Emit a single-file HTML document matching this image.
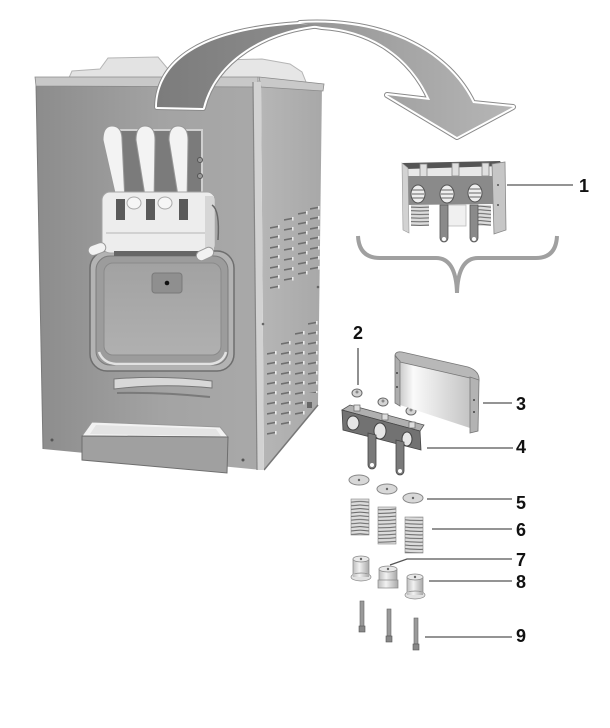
<!DOCTYPE html>
<html><head><meta charset="utf-8"><style>
html,body{margin:0;padding:0;background:#fff;}
svg{display:block;}
text{font-family:"Liberation Sans",Arial,sans-serif;font-weight:bold;font-size:18px;fill:#111;}
</style></head><body>
<svg width="610" height="728" viewBox="0 0 610 728" xmlns="http://www.w3.org/2000/svg">
<defs>
 <linearGradient id="front" x1="0" y1="0" x2="1" y2="0">
  <stop offset="0" stop-color="#8c8c8c"/><stop offset="0.55" stop-color="#a3a3a3"/><stop offset="1" stop-color="#a9a9a9"/>
 </linearGradient>
 <linearGradient id="side" x1="0" y1="0" x2="1" y2="0">
  <stop offset="0" stop-color="#b6b6b6"/><stop offset="1" stop-color="#a8a8a8"/>
 </linearGradient>
 <linearGradient id="arrL" x1="0" y1="0" x2="1" y2="0"><stop offset="0" stop-color="#7c7c7c"/><stop offset="1" stop-color="#8e8e8e"/></linearGradient>
 <linearGradient id="arrR" x1="0" y1="0" x2="1" y2="0"><stop offset="0" stop-color="#949494"/><stop offset="1" stop-color="#b6b6b6"/></linearGradient>
 <linearGradient id="cov" x1="0" y1="0" x2="1" y2="0"><stop offset="0" stop-color="#c8c8c8"/><stop offset="0.2" stop-color="#fafafa"/><stop offset="1" stop-color="#c4c4c4"/></linearGradient>
 <linearGradient id="cyl" x1="0" y1="0" x2="1" y2="0"><stop offset="0" stop-color="#bdbdbd"/><stop offset="0.4" stop-color="#f2f2f2"/><stop offset="1" stop-color="#a8a8a8"/></linearGradient>
 <linearGradient id="win" x1="0" y1="0" x2="0" y2="1"><stop offset="0" stop-color="#a2a2a2"/><stop offset="1" stop-color="#b0b0b0"/></linearGradient>
 <pattern id="vent" width="12" height="10" patternUnits="userSpaceOnUse">
  <path d="M0,6 L8,4.5" stroke="#6e6e6e" stroke-width="1.6"/>
  <path d="M8.8,3 L8.8,6.5" stroke="#f2f2f2" stroke-width="1.4"/>
 </pattern>
 <pattern id="coil" width="40" height="3.6" patternUnits="userSpaceOnUse">
  <rect width="40" height="3.6" fill="#dcdcdc"/>
  <path d="M0,1 Q20,3.4 40,1" stroke="#666" stroke-width="1" fill="none"/>
 </pattern>
</defs>

<!-- ===== Machine ===== -->
<path d="M68,80 L72,71 L100,69 L108,58 L158,57 L168,69 L171,80 Z" fill="#e3e3e3" stroke="#b5b5b5"/>
<path d="M208,80 L214,70 L222,60 L262,59 L290,64 L302,72 L306,82 Z" fill="#e6e6e6" stroke="#b5b5b5"/>
<path d="M36,84 L257,86 L262,470 L43,449 Z" fill="url(#front)"/>
<path d="M36,84 L43,449" stroke="#7a7a7a" stroke-width="1"/>
<path d="M35,77 L258,77 L258,87 L36,86 Z" fill="#c8c8c8" stroke="#8a8a8a" stroke-width="0.8"/>
<path d="M261,79 L322,85 L318,405 L264,470 Z" fill="url(#side)"/>
<path d="M259,77 L324,84 L323,91 L261,87 Z" fill="#c9c9c9" stroke="#8a8a8a" stroke-width="0.8"/>
<path d="M318,405 L264,470" stroke="#777" stroke-width="1.5"/>
<path d="M253,82 L261,82 L264,470 L257,470 Z" fill="#d2d2d2"/>
<path d="M253,82 L257,470" stroke="#858585" stroke-width="1.2"/>
<rect transform="translate(270,222)" width="12" height="73" fill="url(#vent)"/>
<rect transform="translate(284,214)" width="12" height="73" fill="url(#vent)"/>
<rect transform="translate(298,208)" width="12" height="72" fill="url(#vent)"/>
<rect transform="translate(310,203)" width="10" height="67" fill="url(#vent)"/>
<rect transform="translate(267,348)" width="12" height="92" fill="url(#vent)"/>
<rect transform="translate(281,338)" width="12" height="90" fill="url(#vent)"/>
<rect transform="translate(295,328)" width="12" height="87" fill="url(#vent)"/>
<rect transform="translate(308,318)" width="11" height="75" fill="url(#vent)"/>
<circle cx="263" cy="324" r="1.3" fill="#666"/>
<circle cx="318" cy="287" r="1.3" fill="#666"/>
<rect x="307" y="402" width="5" height="6" fill="#666"/>
<circle cx="52" cy="440" r="1.5" fill="#555"/>
<circle cx="243" cy="460" r="1.5" fill="#555"/>

<!-- window -->
<rect x="90" y="251" width="144" height="120" rx="17" fill="#b3b3b3" stroke="#6e6e6e" stroke-width="1.5"/>
<rect x="96" y="256" width="132" height="109" rx="14" fill="#9c9c9c" stroke="#7c7c7c"/>
<rect x="104" y="263" width="117" height="92" rx="9" fill="url(#win)" stroke="#8a8a8a"/>
<path d="M99,352 Q103,363 116,364 L210,364 Q223,363 226,352" stroke="#e2e2e2" stroke-width="2.5" fill="none"/>
<rect x="152" y="273" width="30" height="20" rx="3" fill="#8f8f8f" stroke="#7a7a7a"/>
<circle cx="167" cy="283" r="2.3" fill="#111"/>
<path d="M114,379 Q163,375 212,381 L212,388 Q163,383 114,389 Z" fill="#d8d8d8" stroke="#777"/>
<path d="M117,393 Q163,392 210,397" stroke="#7a7a7a" stroke-width="2" fill="none"/>

<!-- drip tray -->
<path d="M82,436 L92,422 L220,427 L228,437 Z" fill="#f2f2f2" stroke="#999"/>
<path d="M90,434 L96,425 L216,429 L221,436 Z" fill="#e4e4e4"/>
<path d="M82,436 L228,437 L227,473 L82,460 Z" fill="#a0a0a0" stroke="#6e6e6e"/>

<!-- dispenser -->
<rect x="117" y="130" width="85" height="65" fill="#7b7b7b" stroke="#cfcfcf" stroke-width="2"/>
<circle cx="200" cy="160" r="2.5" fill="#999" stroke="#555"/>
<circle cx="200" cy="176" r="2.5" fill="#999" stroke="#555"/>
<path d="M103,140 Q103,126 112,126 Q122,126 122,140 L125,202 L117,202 Z" fill="#f3f3f3" stroke="#999"/>
<path d="M136,140 Q136,126 145,126 Q155,126 155,140 L154,202 L146,202 Z" fill="#f3f3f3" stroke="#999"/>
<path d="M169,140 Q169,126 178,126 Q188,126 188,140 L187,202 L179,202 Z" fill="#f3f3f3" stroke="#999"/>
<rect x="102" y="192" width="113" height="61" rx="8" fill="#ededed" stroke="#a5a5a5"/>
<path d="M106,233 L211,233" stroke="#b5b5b5"/>
<rect x="205" y="196" width="9" height="54" fill="#d6d6d6"/>
<path d="M212,205 Q220,210 218,240" stroke="#666" stroke-width="1.5" fill="none"/>
<rect x="116" y="199" width="9" height="21" fill="#5a5a5a"/>
<rect x="146" y="199" width="9" height="21" fill="#5a5a5a"/>
<rect x="179" y="199" width="9" height="21" fill="#5a5a5a"/>
<ellipse cx="134" cy="203" rx="7" ry="6" fill="#f6f6f6" stroke="#aaa"/>
<ellipse cx="165" cy="203" rx="7" ry="6" fill="#f6f6f6" stroke="#aaa"/>
<rect x="114" y="251" width="88" height="5" fill="#666"/>
<rect x="88" y="244" width="18" height="10" rx="5" transform="rotate(-20 97 249)" fill="#f2f2f2" stroke="#999"/>
<rect x="196" y="249" width="18" height="10" rx="5" transform="rotate(-25 205 254)" fill="#f2f2f2" stroke="#999"/>

<!-- ===== Arrow ===== -->
<g stroke-linejoin="round">
 <path d="M157,107 C158,62 200,30 300,24 L322,25 C265,30 215,60 203,108 Z" fill="none" stroke="#8a8a8a" stroke-width="6"/>
 <path d="M300,23 C390,18 450,55 473,103 L513,107 L457,137 L387,95 L430,100 C410,55 370,30 322,27 Z" fill="none" stroke="#8a8a8a" stroke-width="6"/>
 <path d="M157,107 C158,62 200,30 300,24 L322,25 C265,30 215,60 203,108 Z" fill="none" stroke="#fff" stroke-width="4"/>
 <path d="M300,23 C390,18 450,55 473,103 L513,107 L457,137 L387,95 L430,100 C410,55 370,30 322,27 Z" fill="none" stroke="#fff" stroke-width="4"/>
 <path d="M300,23 C390,18 450,55 473,103 L513,107 L457,137 L387,95 L430,100 C410,55 370,30 322,27 Z" fill="url(#arrR)"/>
 <path d="M157,107 C158,62 200,30 300,24 L322,25 C265,30 215,60 203,108 Z" fill="url(#arrL)"/>
</g>

<!-- ===== Part 1 assembly ===== -->
<path d="M405,168 L500,165 L500,178 L406,178 Z" fill="#e8e8e8"/>
<path d="M402,163 L500,161 L503,166 L406,169 Z" fill="#555"/>
<rect x="420" y="164" width="7" height="13" fill="#e0e0e0" stroke="#888" stroke-width="0.8"/>
<rect x="452" y="163" width="7" height="13" fill="#e0e0e0" stroke="#888" stroke-width="0.8"/>
<rect x="482" y="163" width="7" height="13" fill="#e0e0e0" stroke="#888" stroke-width="0.8"/>
<path d="M404,176 L494,176 L494,204 L405,205 Z" fill="#8a8a8a"/>
<ellipse cx="418" cy="194" rx="7" ry="9" fill="#eee" stroke="#555"/>
<ellipse cx="447" cy="194" rx="7" ry="9" fill="#eee" stroke="#555"/>
<ellipse cx="475" cy="193" rx="7" ry="9" fill="#eee" stroke="#555"/>
<path d="M412,190 H424 M412,194 H424 M412,198 H424 M441,190 H453 M441,194 H453 M441,198 H453 M469,189 H481 M469,193 H481 M469,197 H481" stroke="#666" stroke-width="1"/>
<rect x="411" y="205" width="18" height="21" fill="url(#coil)"/>
<rect x="447" y="205" width="19" height="21" fill="#f0f0f0" stroke="#bbb" stroke-width="0.8"/>
<rect x="474" y="205" width="17" height="21" fill="url(#coil)"/>
<path d="M402,163 L408,168 L409,233 L403,230 Z" fill="#d2d2d2" stroke="#999" stroke-width="0.6"/>
<path d="M492,164 L505,162 L506,230 L494,234 Z" fill="#c6c6c6" stroke="#888" stroke-width="0.8"/>
<circle cx="498" cy="185" r="1" fill="#555"/><circle cx="498" cy="205" r="1" fill="#555"/>
<path d="M440,205 L448,205 L448,238 A4,4 0 0 1 440,238 Z" fill="#8a8a8a" stroke="#555" stroke-width="0.8"/>
<circle cx="444" cy="239" r="2" fill="#fff"/>
<path d="M470,205 L478,205 L478,238 A4,4 0 0 1 470,238 Z" fill="#8a8a8a" stroke="#555" stroke-width="0.8"/>
<circle cx="474" cy="239" r="2" fill="#fff"/>
<path d="M507,185 L573,185" stroke="#555" stroke-width="1.3"/>
<text x="579" y="192">1</text>

<!-- brace -->
<path d="M358,236 Q359,258 380,258 L436,258 Q456,258 457,293 M457,293 Q458,258 478,258 L536,258 Q556,258 557,236" fill="none" stroke="#a0a0a0" stroke-width="4"/>

<!-- ===== Exploded parts ===== -->
<text x="353" y="339">2</text>
<path d="M358,348 L358,385" stroke="#555" stroke-width="1.3"/>
<ellipse cx="357" cy="393" rx="5" ry="4" fill="#d4d4d4" stroke="#666"/><circle cx="357" cy="392" r="1.5" fill="#888"/>
<ellipse cx="383" cy="402" rx="5" ry="4" fill="#d4d4d4" stroke="#666"/><circle cx="383" cy="401" r="1.5" fill="#888"/>
<ellipse cx="411" cy="411" rx="5" ry="4" fill="#d4d4d4" stroke="#666"/><circle cx="411" cy="410" r="1.5" fill="#888"/>

<path d="M399,360 L470,376 L470,428 L400,405 Z" fill="url(#cov)"/>
<path d="M395,355 Q396,351 402,352 L468,367 Q480,371 479,381 L470,378 L400,362 Z" fill="#b8b8b8" stroke="#777" stroke-width="0.8"/>
<path d="M395,356 L400,361 L400,406 L395,403 Z" fill="#adadad" stroke="#777" stroke-width="0.8"/>
<path d="M470,377 L479,380 L478,431 L470,433 Z" fill="#b3b3b3" stroke="#777" stroke-width="0.8"/>
<circle cx="397" cy="373" r="1" fill="#444"/><circle cx="397" cy="387" r="1" fill="#444"/>
<circle cx="474" cy="400" r="1" fill="#444"/><circle cx="474" cy="412" r="1" fill="#444"/>
<path d="M483,403 L512,403" stroke="#555" stroke-width="1.3"/>
<text x="516" y="410">3</text>

<path d="M342,410 L350,405 L424,425 L420,431 Z" fill="#b0b0b0" stroke="#555" stroke-width="0.8"/>
<path d="M342,410 L420,431 L421,450 L343,430 Z" fill="#727272" stroke="#444" stroke-width="0.8"/>
<ellipse cx="353" cy="423" rx="6" ry="7" fill="#e6e6e6" stroke="#444"/>
<ellipse cx="380" cy="431" rx="6" ry="8" fill="#e6e6e6" stroke="#444"/>
<ellipse cx="407" cy="439" rx="5" ry="7" fill="#e6e6e6" stroke="#444"/>
<path d="M368,433 L376,435 L376,465 A4,4 0 0 1 368,465 Z" fill="#7a7a7a" stroke="#444" stroke-width="0.8"/>
<circle cx="372" cy="465" r="2" fill="#fff"/>
<path d="M396,440 L404,442 L404,471 A4,4 0 0 1 396,471 Z" fill="#7a7a7a" stroke="#444" stroke-width="0.8"/>
<circle cx="400" cy="471" r="2" fill="#fff"/>
<rect x="354" y="405" width="6" height="6" fill="#ddd" stroke="#666" stroke-width="0.7"/>
<rect x="382" y="414" width="6" height="6" fill="#ddd" stroke="#666" stroke-width="0.7"/>
<rect x="409" y="422" width="6" height="6" fill="#ddd" stroke="#666" stroke-width="0.7"/>
<path d="M427,448 L513,448" stroke="#555" stroke-width="1.3"/>
<text x="516" y="453">4</text>

<ellipse cx="359" cy="480" rx="10" ry="5" fill="#d8d8d8" stroke="#888"/><circle cx="359" cy="480" r="1.2" fill="#666"/>
<ellipse cx="387" cy="489" rx="10" ry="5" fill="#d8d8d8" stroke="#888"/><circle cx="387" cy="489" r="1.2" fill="#666"/>
<ellipse cx="413" cy="498" rx="10" ry="5" fill="#d8d8d8" stroke="#888"/><circle cx="413" cy="498" r="1.2" fill="#666"/>
<path d="M427,499 L512,499" stroke="#555" stroke-width="1.3"/>
<text x="516" y="509">5</text>

<rect x="351" y="499" width="18" height="36" fill="url(#coil)" stroke="#888" stroke-width="0.6"/>
<rect x="378" y="507" width="18" height="37" fill="url(#coil)" stroke="#888" stroke-width="0.6"/>
<rect x="405" y="517" width="18" height="36" fill="url(#coil)" stroke="#888" stroke-width="0.6"/>
<path d="M432,529 L512,529" stroke="#555" stroke-width="1.3"/>
<text x="516" y="536">6</text>

<rect x="353" y="559" width="16" height="17" fill="url(#cyl)" stroke="#888" stroke-width="0.7"/>
<ellipse cx="361" cy="577" rx="10" ry="4" fill="#e2e2e2" stroke="#888" stroke-width="0.7"/>
<rect x="353" y="574" width="16" height="3" fill="url(#cyl)"/>
<ellipse cx="361" cy="559" rx="8" ry="3" fill="#e8e8e8" stroke="#888" stroke-width="0.7"/>
<circle cx="361" cy="559" r="1.2" fill="#666"/>

<rect x="379" y="569" width="18" height="13" fill="url(#cyl)" stroke="#888" stroke-width="0.7"/>
<rect x="378" y="580" width="20" height="8" fill="url(#cyl)" stroke="#888" stroke-width="0.7"/>
<ellipse cx="388" cy="569" rx="9" ry="3" fill="#e8e8e8" stroke="#888" stroke-width="0.7"/>
<circle cx="388" cy="569" r="1.2" fill="#666"/>

<rect x="407" y="577" width="16" height="17" fill="url(#cyl)" stroke="#888" stroke-width="0.7"/>
<ellipse cx="415" cy="595" rx="10" ry="4" fill="#e2e2e2" stroke="#888" stroke-width="0.7"/>
<rect x="407" y="592" width="16" height="3" fill="url(#cyl)"/>
<ellipse cx="415" cy="577" rx="8" ry="3" fill="#e8e8e8" stroke="#888" stroke-width="0.7"/>
<circle cx="415" cy="577" r="1.2" fill="#666"/>

<path d="M390,565 L407,559 L512,559" stroke="#555" stroke-width="1.3" fill="none"/>
<text x="516" y="566">7</text>
<path d="M429,581 L512,581" stroke="#555" stroke-width="1.3"/>
<text x="516" y="588">8</text>

<rect x="360" y="601" width="4" height="26" fill="#9a9a9a" stroke="#666" stroke-width="0.6"/>
<rect x="359" y="626" width="6" height="6" fill="#888" stroke="#555" stroke-width="0.6"/>
<rect x="387" y="609" width="4" height="27" fill="#9a9a9a" stroke="#666" stroke-width="0.6"/>
<rect x="386" y="636" width="6" height="6" fill="#888" stroke="#555" stroke-width="0.6"/>
<rect x="414" y="618" width="4" height="26" fill="#9a9a9a" stroke="#666" stroke-width="0.6"/>
<rect x="413" y="644" width="6" height="6" fill="#888" stroke="#555" stroke-width="0.6"/>
<path d="M425,637 L512,637" stroke="#555" stroke-width="1.3"/>
<text x="516" y="642">9</text>
</svg>
</body></html>
